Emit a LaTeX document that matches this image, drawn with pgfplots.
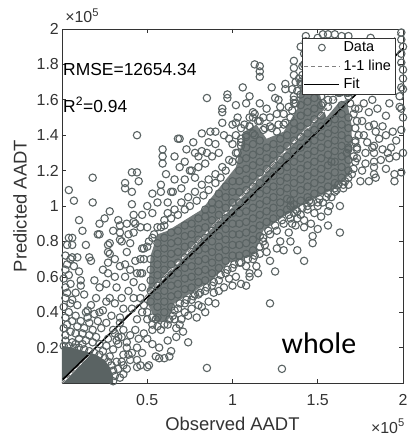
\documentclass[border=0pt]{standalone}
\usepackage{fontspec}
\setmainfont{Liberation Sans}
\newfontfamily\calib{Carlito}
\usepackage{pgfplots}
\pgfplotsset{compat=1.18}
\definecolor{mk}{HTML}{5A6363}
\definecolor{ax}{HTML}{333333}

\begin{document}
\begin{tikzpicture}
\begin{axis}[
  scale only axis, width=341bp, height=354bp,
  xmin=0, xmax=2, ymin=0, ymax=2,
  clip=false,
  axis line style={ax, line width=0.7bp},
  tick align=inside, xtick pos=both, ytick pos=both,
  major tick length=4bp, tick style={ax, line width=0.6bp},
  xtick={0.5,1,1.5,2}, ytick={0.2,0.4,0.6,0.8,1,1.2,1.4,1.6,1.8,2},
  /pgf/number format/assume math mode=true,
  tick label style={font=\fontsize{16}{19}\selectfont, text=ax},
  xticklabel style={anchor=base, yshift=-22bp},
  yticklabel style={anchor=east, inner sep=0pt, xshift=-3bp},
  xlabel={Observed AADT}, ylabel={Predicted AADT},
  label style={font=\fontsize{18.5}{22}\selectfont, text=ax},
  xlabel style={at={(axis description cs:0.5,-0.116)}, anchor=center},
  ylabel style={at={(axis description cs:-0.123,0.5)}, anchor=center},
  legend style={at={(axis description cs:0.978,0.975)}, anchor=north east,
    draw=ax, line width=0.5bp, fill=white, font=\fontsize{14.5}{17}\selectfont,
    inner xsep=1bp, inner ysep=0.5bp, nodes={inner sep=3.3bp}},
  legend cell align=left,
]
\addlegendimage{legend image code/.code={\draw[mk, line width=1bp] (0.62cm,0cm) circle (3.4bp);}}
\addlegendentry{Data}
\addlegendimage{legend image code/.code={\draw[black!50, line width=0.8bp, dash pattern=on 4bp off 3bp] (0cm,0cm) -- (1.24cm,0cm);}}
\addlegendentry{1-1 line}
\addlegendimage{legend image code/.code={\draw[black, line width=1.6bp] (0cm,0cm) -- (1.24cm,0cm);}}
\addlegendentry{Fit}

% dense cores of the cloud
\addplot[fill=mk, draw=none, forget plot] coordinates {(0,0) (0,0.21) (0.06,0.20) (0.13,0.18) (0.20,0.16) (0.25,0.13) (0.28,0.09) (0.30,0.04) (0.30,0)} -- cycle;
\addplot[fill=mk!85!white, draw=none, forget plot] coordinates {(0.50,0.45) (0.56,0.34) (0.62,0.35) (0.66,0.45) (0.76,0.51) (0.88,0.58) (0.98,0.68) (1.06,0.70) (1.13,0.73) (1.18,0.86) (1.30,0.94) (1.40,1.00) (1.50,1.05) (1.60,1.10) (1.69,1.18) (1.70,1.45) (1.67,1.60) (1.62,1.58) (1.55,1.50) (1.47,1.78) (1.41,1.76) (1.38,1.55) (1.30,1.42) (1.20,1.38) (1.14,1.46) (1.07,1.42) (1.02,1.22) (0.92,1.10) (0.82,0.98) (0.72,0.92) (0.62,0.86) (0.56,0.84) (0.52,0.72)} -- cycle;

% individual observations
\addplot[only marks, mark=o, mark size=3.7bp, mk, line width=1.1bp, forget plot] coordinates {
(0.01,0.21) (0.04,0.21) (0.07,0.20) (0.10,0.20) (0.13,0.19) (0.16,0.18) (0.19,0.17) (0.22,0.16) (0.25,0.14) (0.27,0.12) (0.29,0.10) (0.30,0.07) (0.31,0.04) (0.30,0.01) (0.33,0.08) (0.34,0.03) (0.32,0.12) (0.28,0.15) (0.24,0.18) (0.02,0.24) (0.06,0.23)
(0.02,0.27) (0.05,0.29) (0.01,0.31) (0.03,0.33) (0.06,0.35) (0.02,0.37) (0.04,0.40) (0.01,0.43) (0.05,0.45) (0.02,0.48) (0.03,0.51) (0.02,0.54) (0.05,0.56) (0.01,0.59) (0.04,0.61) (0.02,0.64) (0.03,0.67) (0.07,0.66) (0.05,0.70) (0.02,0.72) (0.06,0.71) (0.09,0.71) (0.03,0.78) (0.06,0.78) (0.04,0.82) (0.06,0.82) (0.04,1.09) (0.07,1.03) (0.11,0.58) (0.11,0.55) (0.10,0.63) (0.17,0.69) (0.06,0.47) (0.15,0.41) (0.22,0.40) (0.16,0.34) (0.22,0.54) (0.26,0.56) (0.28,0.48) (0.26,0.46) (0.27,0.62) (0.27,0.68) (0.28,0.73) (0.28,0.79) (0.21,0.84) (0.22,0.90) (0.32,0.54) (0.34,0.66) (0.34,0.81) (0.38,0.74) (0.37,0.67) (0.37,0.60) (0.41,0.42) (0.34,0.34) (0.30,0.30) (0.32,0.24) (0.38,0.23) (0.41,0.17) (0.44,0.13) (0.50,0.09) (0.46,0.10) (0.55,0.15) (0.57,0.20) (0.53,0.30) (0.55,0.36) (0.47,0.76) (0.42,0.85) (0.46,0.88) (0.50,0.88) (0.43,0.90) (0.38,0.90) (0.34,0.89) (0.33,0.92)
(0.08,0.22) (0.12,0.22) (0.10,0.25) (0.14,0.24) (0.18,0.23) (0.22,0.22) (0.26,0.21) (0.30,0.19) (0.08,0.28) (0.12,0.28) (0.16,0.27) (0.20,0.26) (0.27,0.25) (0.33,0.22) (0.09,0.32) (0.13,0.31) (0.18,0.30) (0.23,0.31) (0.31,0.28) (0.11,0.35) (0.15,0.37) (0.21,0.35) (0.26,0.34) (0.08,0.38) (0.14,0.40) (0.19,0.39) (0.24,0.41) (0.29,0.38) (0.17,0.44) (0.34,0.37) (0.36,0.30) (0.35,0.26) (0.38,0.20) (0.36,0.16) (0.40,0.13) (0.35,0.12) (0.38,0.08) (0.36,0.05) (0.44,0.09) (0.39,0.16) (0.44,0.20) (0.47,0.17) (0.48,0.28) (0.50,0.25) (0.53,0.22) (0.62,0.24) (0.64,0.18) (0.60,0.14) (0.57,0.14) (0.63,0.15) (0.51,0.10) (0.36,0.10) (0.33,0.26)
(0.31,0.45) (0.35,0.48) (0.39,0.52) (0.42,0.57) (0.40,0.64) (0.43,0.69) (0.40,0.79) (0.31,0.60) (0.31,0.70) (0.24,0.64) (0.19,0.58) (0.13,0.50) (0.09,0.44) (0.20,0.48) (0.36,0.42) (0.44,0.36) (0.43,0.30) (0.40,0.27) (0.45,0.25) (0.42,0.48) (0.44,0.62) (0.39,0.84) (0.30,0.86) (0.25,0.93) (0.12,0.86) (0.14,0.78) (0.10,0.92) (0.08,0.51)
(0.16,0.71) (0.27,0.74) (0.27,0.78) (0.35,0.80) (0.22,0.84) (0.34,0.85) (0.42,0.95) (0.42,0.91) (0.28,0.97) (0.41,1.01) (0.41,1.08) (0.18,1.02) (0.18,1.16) (0.37,1.13) (0.37,1.10) (0.44,1.19) (0.41,1.19) (0.45,1.14) (0.53,1.07) (0.58,1.12) (0.58,1.08) (0.56,1.02) (0.65,1.08) (0.59,1.32) (0.59,1.28) (0.59,1.24) (0.44,1.40) (0.68,1.38) (0.85,1.61) (0.72,1.15) (0.75,1.20) (0.80,1.28) (0.82,1.31) (0.50,1.00) (0.47,0.95) (0.53,0.96) (0.61,1.18) (0.69,1.22) (0.66,1.28) (0.73,1.32) (0.77,1.36) (0.86,1.36) (0.90,1.42) (0.92,1.30) (0.84,1.24) (0.78,1.16) (0.70,1.10)
(0.67,0.31) (0.67,0.26) (0.71,0.29) (0.74,0.23) (0.72,0.40) (0.74,0.38) (0.66,0.36) (0.69,0.33) (0.82,0.43) (0.80,0.44) (0.89,0.51) (0.98,0.59) (1.05,0.56) (0.85,0.085) (1.22,0.45) (1.25,0.63) (1.22,0.69) (1.29,0.08) (1.18,0.80) (1.38,0.75) (1.37,0.89) (1.42,0.69) (1.47,0.79) (1.47,0.83) (1.50,0.87) (1.56,0.89) (1.56,0.97) (1.63,0.85) (1.63,1.00) (1.33,0.85) (1.30,0.75) (1.28,0.80) (0.76,0.42) (0.79,0.37) (0.86,0.46) (0.92,0.52) (1.00,0.55) (1.10,0.60) (1.14,0.66) (0.70,0.36) (0.78,0.50) (0.84,0.40) (0.90,0.45) (0.95,0.54) (1.02,0.60) (1.08,0.55) (1.15,0.62) (1.20,0.74) (1.26,0.76) (1.34,0.80)
(1.34,1.00) (1.36,0.96) (1.38,0.93) (1.40,0.95) (1.42,0.92) (1.44,0.98) (1.48,0.96) (1.50,1.00) (1.53,1.02) (1.58,1.05) (1.60,1.08) (1.52,0.94) (1.46,0.90) (1.35,0.90) (1.34,1.03) (1.65,1.10) (1.68,1.12) (1.62,1.12) (1.57,1.00) (1.45,1.03) (1.42,0.88)
(1.75,1.14) (1.80,1.14) (1.84,1.16) (1.73,1.27) (1.83,1.25) (1.83,1.18) (1.83,1.22) (1.83,1.30) (1.83,1.34) (1.90,1.21) (1.95,1.18) (1.95,1.14) (1.92,1.27) (1.96,1.28) (1.68,1.33) (1.73,1.33) (1.78,1.30) (1.88,1.32) (1.91,1.30) (1.76,1.20) (1.58,1.25) (1.67,1.30) (1.82,1.33) (1.93,1.33) (1.74,1.55) (1.80,1.53) (1.83,1.46) (1.90,1.51) (1.94,1.42) (1.86,1.38) (1.77,1.40) (1.72,1.37) (1.98,1.56) (2.00,1.66) (1.80,1.45) (1.88,1.45) (1.76,1.48) (1.85,1.55) (1.92,1.58) (1.78,1.24) (1.87,1.26) (1.79,1.36) (1.90,1.40) (1.84,1.42) (1.96,1.37) (1.77,1.58) (1.82,1.60)
(1.99,1.98) (1.99,1.94) (2.00,1.90) (1.99,1.86) (2.00,1.77) (1.99,1.67) (2.00,1.50) (1.99,1.43) (2.00,1.30) (1.99,1.19) (1.98,1.62) (2.00,1.72) (1.99,1.55) (1.99,1.81)
(1.53,1.97) (1.56,1.97) (1.60,1.97) (1.64,1.96) (1.68,1.96) (1.81,1.95) (1.43,1.96) (1.43,1.93) (1.44,1.89) (1.42,1.86) (1.45,1.83) (1.43,1.80) (1.46,1.76) (1.41,1.74) (1.36,1.82) (1.36,1.78) (1.36,1.74) (1.37,1.70) (1.35,1.66) (1.36,1.62) (1.36,1.58) (1.35,1.54) (1.63,1.80) (1.65,1.76) (1.63,1.72) (1.66,1.68) (1.62,1.64) (1.68,1.62) (1.50,1.95) (1.47,1.92) (1.40,1.90) (1.52,1.88)
(0.82,1.41) (0.87,1.42) (0.94,1.55) (0.94,1.53) (0.97,1.63) (0.97,1.61) (1.02,1.47) (1.03,1.50) (1.06,1.67) (1.12,1.53) (1.13,1.80) (1.16,1.79) (1.16,1.76) (1.16,1.73) (1.16,1.58) (1.23,1.67) (1.25,1.61) (1.27,1.60) (1.31,1.69) (1.31,1.66) (0.72,1.25) (0.78,1.30) (0.76,1.20) (0.85,1.30) (0.90,1.35) (0.95,1.40) (1.00,1.35) (0.80,1.22) (0.88,1.28) (1.08,1.58) (1.20,1.55) (1.28,1.56) (1.10,1.62) (0.66,1.15) (0.64,1.08) (0.62,1.02) (0.98,1.38) (1.02,1.40) (1.05,1.36) (1.10,1.45) (1.13,1.40) (1.18,1.43) (1.22,1.45) (1.26,1.42) (1.30,1.46) (1.05,1.44) (0.94,1.47) (1.00,1.46) (1.02,1.57) (0.69,1.38)
(0.47,0.40) (0.50,0.36) (0.53,0.33) (0.58,0.30) (0.62,0.33) (0.65,0.38) (0.68,0.42) (0.72,0.45) (0.76,0.47) (0.80,0.50) (0.84,0.52) (0.88,0.55) (0.92,0.58) (0.96,0.62) (1.00,0.65) (1.04,0.68) (1.08,0.66) (1.10,0.62) (1.12,0.70) (1.16,0.73) (1.19,0.78) (1.22,0.84) (1.26,0.86) (1.30,0.90) (1.34,0.93) (1.38,0.97) (1.44,1.00) (1.50,1.02) (1.55,1.05) (1.60,1.10) (1.66,1.14) (1.70,1.18) (1.72,1.25) (1.73,1.32) (1.74,1.40)
(0.46,0.62) (0.46,0.70) (0.48,0.76) (0.51,0.80) (0.54,0.84) (0.58,0.88) (0.60,0.92) (0.62,0.96) (0.66,0.98) (0.70,1.02) (0.74,1.05) (0.78,1.08) (0.82,1.12) (0.86,1.15) (0.90,1.18) (0.94,1.22) (0.98,1.26) (1.02,1.30) (1.05,1.34) (1.08,1.40) (1.10,1.45) (1.12,1.50) (1.15,1.48) (1.18,1.50) (1.22,1.50) (1.26,1.52) (1.30,1.52) (1.33,1.56) (1.36,1.60) (1.40,1.70) (1.42,1.80) (1.45,1.84) (1.48,1.76) (1.52,1.62) (1.56,1.60) (1.60,1.66) (1.64,1.70) (1.68,1.64) (1.72,1.55) (1.73,1.48)
(0.48,0.44) (0.50,0.40) (0.53,0.37) (0.56,0.32) (0.60,0.33) (0.63,0.36) (0.66,0.41) (0.69,0.45) (0.73,0.47) (0.77,0.49) (0.81,0.51) (0.85,0.54) (0.89,0.57) (0.93,0.61) (0.97,0.64) (1.01,0.67) (1.05,0.68) (1.09,0.70) (1.13,0.72) (1.16,0.77) (1.18,0.82) (1.21,0.86) (1.25,0.89) (1.29,0.92) (1.33,0.95) (1.37,0.98) (1.41,0.99) (1.46,1.02) (1.51,1.04) (1.56,1.07) (1.61,1.09) (1.65,1.12) (1.68,1.16) (1.71,1.21) (1.71,1.28) (1.72,1.36) (1.72,1.44)
(1.71,1.52) (1.69,1.58) (1.67,1.64) (1.63,1.64) (1.59,1.60) (1.56,1.56) (1.53,1.58) (1.51,1.66) (1.49,1.74) (1.47,1.81) (1.44,1.80) (1.41,1.79) (1.39,1.72) (1.38,1.65) (1.37,1.58) (1.34,1.50) (1.31,1.47) (1.27,1.46) (1.23,1.44) (1.19,1.44) (1.16,1.48) (1.13,1.52) (1.10,1.50) (1.07,1.46) (1.05,1.38) (1.03,1.30) (1.00,1.25) (0.96,1.20) (0.93,1.16) (0.90,1.13) (0.86,1.09) (0.83,1.06) (0.79,1.03) (0.75,1.00) (0.72,0.98) (0.68,0.95) (0.64,0.93) (0.60,0.89) (0.56,0.88) (0.53,0.82) (0.50,0.77) (0.48,0.70) (0.47,0.62) (0.47,0.54) (0.46,0.48)
(0.52,0.46) (0.52,0.52) (0.52,0.58) (0.52,0.64) (0.52,0.70)
(0.56,0.37) (0.56,0.43) (0.56,0.49) (0.56,0.55) (0.56,0.61) (0.56,0.67) (0.56,0.73) (0.56,0.79)
(0.60,0.40) (0.60,0.46) (0.60,0.52) (0.60,0.58) (0.60,0.64) (0.60,0.70) (0.60,0.76) (0.60,0.82)
(0.64,0.43) (0.64,0.49) (0.64,0.55) (0.64,0.61) (0.64,0.67) (0.64,0.73) (0.64,0.79) (0.64,0.85)
(0.68,0.50) (0.68,0.56) (0.68,0.62) (0.68,0.68) (0.68,0.74) (0.68,0.80) (0.68,0.86)
(0.72,0.53) (0.72,0.59) (0.72,0.65) (0.72,0.71) (0.72,0.77) (0.72,0.83) (0.72,0.89)
(0.76,0.54) (0.76,0.60) (0.76,0.66) (0.76,0.72) (0.76,0.78) (0.76,0.84) (0.76,0.90)
(0.80,0.57) (0.80,0.63) (0.80,0.69) (0.80,0.75) (0.80,0.81) (0.80,0.87) (0.80,0.93)
(0.84,0.58) (0.84,0.64) (0.84,0.70) (0.84,0.76) (0.84,0.82) (0.84,0.88) (0.84,0.94) (0.84,0.98)
(0.88,0.62) (0.88,0.68) (0.88,0.74) (0.88,0.80) (0.88,0.86) (0.88,0.92) (0.88,0.98) (0.88,1.02)
(0.92,0.65) (0.92,0.71) (0.92,0.77) (0.92,0.83) (0.92,0.89) (0.92,0.95) (0.92,1.01) (0.92,1.07)
(0.96,0.69) (0.96,0.75) (0.96,0.81) (0.96,0.87) (0.96,0.93) (0.96,0.99) (0.96,1.05) (0.96,1.11)
(1.00,0.72) (1.00,0.78) (1.00,0.84) (1.00,0.90) (1.00,0.96) (1.00,1.02) (1.00,1.08) (1.00,1.14)
(1.04,0.72) (1.04,0.78) (1.04,0.84) (1.04,0.90) (1.04,0.96) (1.04,1.02) (1.04,1.08) (1.04,1.14) (1.04,1.20) (1.04,1.26)
(1.08,0.73) (1.08,0.79) (1.08,0.85) (1.08,0.91) (1.08,0.97) (1.08,1.03) (1.08,1.09) (1.08,1.15) (1.08,1.21) (1.08,1.27) (1.08,1.33) (1.08,1.39)
(1.12,0.75) (1.12,0.81) (1.12,0.87) (1.12,0.93) (1.12,0.99) (1.12,1.05) (1.12,1.11) (1.12,1.17) (1.12,1.23) (1.12,1.29) (1.12,1.35) (1.12,1.41)
(1.16,0.83) (1.16,0.89) (1.16,0.95) (1.16,1.01) (1.16,1.07) (1.16,1.13) (1.16,1.19) (1.16,1.25) (1.16,1.31) (1.16,1.37)
(1.20,0.91) (1.20,0.97) (1.20,1.03) (1.20,1.09) (1.20,1.15) (1.20,1.21) (1.20,1.27) (1.20,1.33)
(1.24,0.93) (1.24,0.99) (1.24,1.05) (1.24,1.11) (1.24,1.17) (1.24,1.23) (1.24,1.29) (1.24,1.35)
(1.28,0.96) (1.28,1.02) (1.28,1.08) (1.28,1.14) (1.28,1.20) (1.28,1.26) (1.28,1.32) (1.28,1.38)
(1.32,0.98) (1.32,1.04) (1.32,1.10) (1.32,1.16) (1.32,1.22) (1.32,1.28) (1.32,1.34) (1.32,1.40)
(1.36,1.01) (1.36,1.07) (1.36,1.13) (1.36,1.19) (1.36,1.25) (1.36,1.31) (1.36,1.37) (1.36,1.43) (1.36,1.47)
(1.40,1.03) (1.40,1.09) (1.40,1.15) (1.40,1.21) (1.40,1.27) (1.40,1.33) (1.40,1.39) (1.40,1.45) (1.40,1.51) (1.40,1.57) (1.40,1.63) (1.40,1.69)
(1.44,1.05) (1.44,1.11) (1.44,1.17) (1.44,1.23) (1.44,1.29) (1.44,1.35) (1.44,1.41) (1.44,1.47) (1.44,1.53) (1.44,1.59) (1.44,1.65) (1.44,1.71) (1.44,1.75)
(1.48,1.07) (1.48,1.13) (1.48,1.19) (1.48,1.25) (1.48,1.31) (1.48,1.37) (1.48,1.43) (1.48,1.49) (1.48,1.55) (1.48,1.61) (1.48,1.67)
(1.52,1.09) (1.52,1.15) (1.52,1.21) (1.52,1.27) (1.52,1.33) (1.52,1.39) (1.52,1.45) (1.52,1.51) (1.52,1.57)
(1.56,1.11) (1.56,1.17) (1.56,1.23) (1.56,1.29) (1.56,1.35) (1.56,1.41) (1.56,1.47)
(1.60,1.13) (1.60,1.19) (1.60,1.25) (1.60,1.31) (1.60,1.37) (1.60,1.43) (1.60,1.49)
(1.64,1.16) (1.64,1.22) (1.64,1.28) (1.64,1.34) (1.64,1.40) (1.64,1.46) (1.64,1.52) (1.64,1.57)
(1.68,1.20) (1.68,1.26) (1.68,1.32) (1.68,1.38) (1.68,1.44) (1.68,1.50)
};

% 1-1 line and fitted line
\addplot[white, line width=1.4bp, forget plot] coordinates {(0,0) (2,2)};
\addplot[black!55, line width=0.8bp, dash pattern=on 4bp off 3bp, forget plot] coordinates {(0,0) (2,2)};
\addplot[black, line width=1.6bp, forget plot] coordinates {(0.005,0.02) (2,1.89)};

\node[anchor=base west, inner sep=0pt, font=\fontsize{17.5}{20}\selectfont] at (axis cs:0.006,1.74) {RMSE=12654.34};
\node[anchor=base west, inner sep=0pt, font=\fontsize{17.5}{20}\selectfont] at (axis cs:0.006,1.53) {R\textsuperscript{2}=0.94};
\node[anchor=base west, inner sep=0pt, font=\calib\fontsize{30}{34}\selectfont] at (axis cs:1.287,0.164) {whole};
\node[anchor=base west, inner sep=0pt, yshift=6bp, text=ax, font=\fontsize{16}{19}\selectfont] at (rel axis cs:0.009,1) {×10\textsuperscript{5}};
\node[anchor=base east, inner sep=0pt, yshift=-50bp, xshift=2bp, text=ax, font=\fontsize{16}{19}\selectfont] at (rel axis cs:1,0) {×10\textsuperscript{5}};
\end{axis}
\pgfresetboundingbox
\useasboundingbox (-62bp,-52bp) rectangle (357bp,383bp);
\end{tikzpicture}
\end{document}
